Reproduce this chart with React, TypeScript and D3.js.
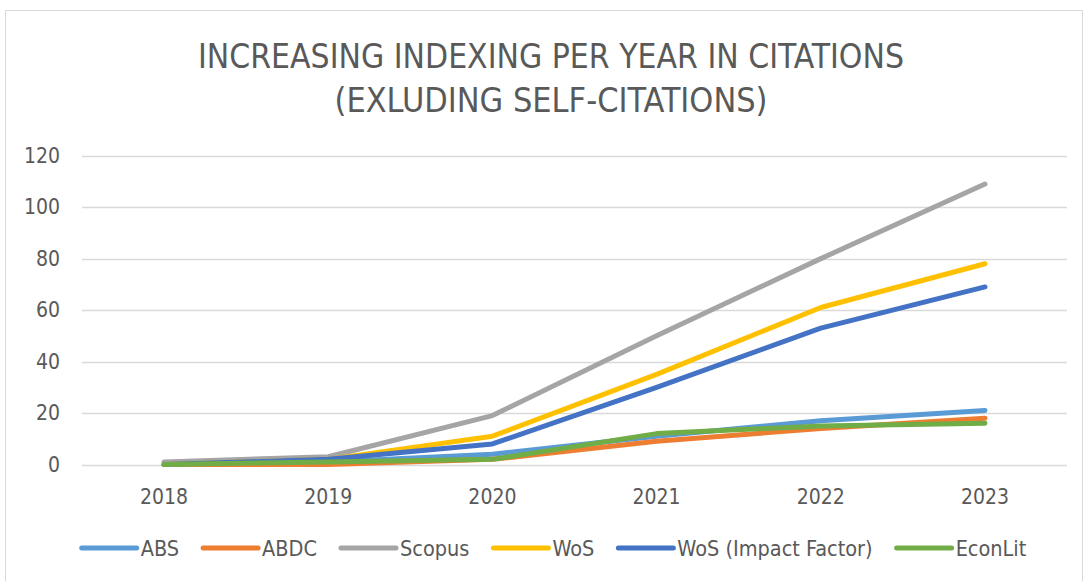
import React, { useEffect, useRef } from "react";
import * as d3 from "d3";

const years = ["2018", "2019", "2020", "2021", "2022", "2023"];
const seriesNames = ["ABS", "ABDC", "Scopus", "WoS", "WoS (Impact Factor)", "EconLit"];
const absValues = [0, 1, 4, 11, 17, 21];
const abdcValues = [0, 0, 2, 9, 14, 18];
const scopusValues = [1, 3, 19, 50, 80, 109];
const wosValues = [0, 2, 11, 35, 61, 78];
const wosIfValues = [0, 2, 8, 30, 53, 69];
const econLitValues = [0, 1, 2, 12, 15, 16];
const yTicks = [0, 20, 40, 60, 80, 100, 120];
const titleLines = ["INCREASING INDEXING PER YEAR IN CITATIONS", "(EXLUDING SELF-CITATIONS)"];

const colors = ["#5B9BD5", "#ED7D31", "#A5A5A5", "#FFC000", "#4472C4", "#70AD47"];
const allValues = [absValues, abdcValues, scopusValues, wosValues, wosIfValues, econLitValues];

const W = 1086;
const H = 581;
const FONT = "'Liberation Sans Narrow', 'DejaVu Sans Condensed', 'Open Sans', sans-serif";

export default function App() {
  const ref = useRef<SVGSVGElement | null>(null);

  useEffect(() => {
    const svg = d3.select(ref.current);
    svg.selectAll("*").remove();

    svg.append("rect").attr("x", 0).attr("y", 0).attr("width", W).attr("height", H).attr("fill", "#fff");
    svg
      .append("rect")
      .attr("x", 5.5)
      .attr("y", 10.5)
      .attr("width", 1077)
      .attr("height", 600)
      .attr("fill", "#fff")
      .attr("stroke", "#d9d9d9")
      .attr("stroke-width", 1);

    const x = d3.scalePoint<string>().domain(years).range([164, 985]);
    const y = d3.scaleLinear().domain([0, 120]).range([464.5, 155.7]);

    // title
    const titleY = [68, 112];
    const titleW = [706, 433];
    titleLines.forEach((t, i) => {
      svg
        .append("text")
        .attr("x", 551)
        .attr("y", titleY[i])
        .attr("text-anchor", "middle")
        .attr("font-family", FONT)
        .attr("font-size", 33)
        .attr("fill", "#595959")
        .attr("textLength", titleW[i])
        .attr("lengthAdjust", "spacingAndGlyphs")
        .text(t);
    });

    // gridlines
    svg
      .append("g")
      .selectAll("line")
      .data(yTicks)
      .join("line")
      .attr("x1", 82)
      .attr("x2", 1067)
      .attr("y1", (d) => Math.round(y(d)) + 0.5)
      .attr("y2", (d) => Math.round(y(d)) + 0.5)
      .attr("stroke", "#d9d9d9")
      .attr("stroke-width", 1.3);

    // y labels
    svg
      .append("g")
      .selectAll("text")
      .data(yTicks)
      .join("text")
      .attr("x", 60)
      .attr("y", (d) => y(d) + 7)
      .attr("text-anchor", "end")
      .attr("font-family", FONT)
      .attr("font-size", 21)
      .attr("fill", "#595959")
      .text((d) => String(d));

    // x labels
    svg
      .append("g")
      .selectAll("text")
      .data(years)
      .join("text")
      .attr("x", (d) => x(d) as number)
      .attr("y", 504)
      .attr("text-anchor", "middle")
      .attr("font-family", FONT)
      .attr("font-size", 21)
      .attr("fill", "#595959")
      .text((d) => d);

    // lines
    const line = d3
      .line<number>()
      .x((_, i) => x(years[i]) as number)
      .y((d) => y(d));

    allValues.forEach((vals, i) => {
      svg
        .append("path")
        .attr("d", line(vals) as string)
        .attr("fill", "none")
        .attr("stroke", colors[i])
        .attr("stroke-width", 5)
        .attr("stroke-linecap", "round")
        .attr("stroke-linejoin", "round");
    });

    // legend
    const lg = svg.append("g");
    const sampleW = 55;
    const gapText = 4;
    const gapItem = 24;
    const items = seriesNames.map((name, i) => {
      const g = lg.append("g");
      g.append("line")
        .attr("x1", 0)
        .attr("x2", sampleW)
        .attr("y1", 0)
        .attr("y2", 0)
        .attr("stroke", colors[i])
        .attr("stroke-width", 5)
        .attr("stroke-linecap", "round");
      const t = g
        .append("text")
        .attr("x", sampleW + gapText)
        .attr("y", 7.5)
        .attr("font-family", FONT)
        .attr("font-size", 21.5)
        .attr("fill", "#595959")
        .text(name);
      const tw = (t.node() as SVGTextElement).getComputedTextLength();
      return { g, w: sampleW + gapText + tw };
    });
    const total = items.reduce((s, it) => s + it.w, 0) + gapItem * (items.length - 1);
    let cx = 554 - total / 2;
    items.forEach((it) => {
      it.g.attr("transform", `translate(${cx},548)`);
      cx += it.w + gapItem;
    });
  }, []);

  return (
    <svg
      ref={ref}
      width={W}
      height={H}
      style={{ position: "absolute", left: 0, top: 0, display: "block" }}
    />
  );
}
